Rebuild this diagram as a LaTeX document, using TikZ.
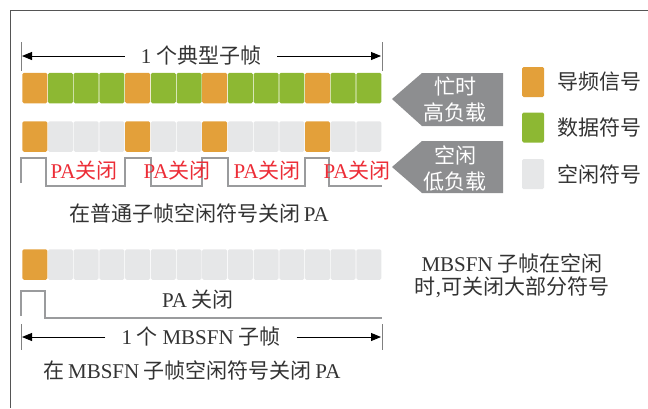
\documentclass[tikz,border=0pt]{standalone}
\usepackage{fontspec}
\setmainfont{Liberation Serif}
\newfontfamily\cjk{Noto Sans CJK SC}
\usetikzlibrary{arrows.meta}
\newcommand\latn[1]{{\rmfamily #1}}
\definecolor{pilot}{HTML}{E3A03A}
\definecolor{data}{HTML}{8DB833}
\definecolor{idle}{HTML}{E6E7E8}
\definecolor{arrgray}{HTML}{8D8E90}
\definecolor{wave}{HTML}{9A9B9D}
\definecolor{txt}{HTML}{333333}
\definecolor{redtxt}{HTML}{EC2D37}
\definecolor{frame}{HTML}{555555}
\tikzset{
  cell/.style={minimum width=25pt,minimum height=30.5pt,inner sep=0pt,rounded corners=1.5pt,draw=none},
  lbl/.style={font=\fontsize{21}{25}\selectfont\cjk,text=txt,inner sep=0pt},
  redlbl/.style={lbl,text=redtxt},
  wavel/.style={draw=wave,line width=1.6pt},
  tick/.style={draw=gray,line width=0.9pt},
  dimarrow/.style={draw=black,line width=0.9pt,-{Triangle[length=10pt,width=8pt]}},
  pent/.style={fill=arrgray},
  whitelbl/.style={lbl,text=white,align=center,font=\fontsize{21}{26}\selectfont\cjk},
  legbox/.style={minimum width=22pt,minimum height=30pt,inner sep=0pt,rounded corners=1.5pt}
}
\begin{document}
\begin{tikzpicture}[x=1pt,y=-1pt]
\useasboundingbox (0,0) rectangle (648,408);
% frame
\draw[frame,line width=1pt] (648,10) -- (10,10) -- (10,408);
% top dimension
\coordinate (t1a) at (21,42); \coordinate (t1b) at (21,71);
\coordinate (t2a) at (382,42); \coordinate (t2b) at (382,71);
\draw[tick] (t1a) -- (t1b); \draw[tick] (t2a) -- (t2b);
\coordinate (tl) at (22,56); \coordinate (tr) at (381,56);
\node[lbl,inner xsep=16pt] (toplbl) at (201,56) {\latn{1} 个典型子帧};
\draw[dimarrow] (toplbl.west) -- (tl);
\draw[dimarrow] (toplbl.east) -- (tr);
% row 1
\foreach \c [count=\i from 0] in {pilot,data,data,data,pilot,data,data,pilot,data,data,data,pilot,data,data}
  \node[cell,fill=\c] (a\i) at (34.8+25.7*\i,88) {};
% row 2
\foreach \c [count=\i from 0] in {pilot,idle,idle,idle,pilot,idle,idle,pilot,idle,idle,idle,pilot,idle,idle}
  \node[cell,fill=\c] (b\i) at (34.8+25.7*\i,136.5) {};
% waveform 2
\draw[wavel] (21,183) -- (21,158) -- (46,158) -- (46,186) -- (125,186) -- (125,158) -- (151,158) -- (151,186) -- (202,186) -- (202,158) -- (228,158) -- (228,186) -- (305,186) -- (305,158) -- (329,158) -- (329,186) -- (382,186);
\node[redlbl] (p1) at (84,171) {\latn{PA}关闭};
\node[redlbl] (p2) at (177,171) {\latn{PA}关闭};
\node[redlbl] (p3) at (267,171) {\latn{PA}关闭};
\node[redlbl] (p4) at (357,171) {\latn{PA}关闭};
\node[lbl] (cap1) at (199,213) {在普通子帧空闲符号关闭\,\latn{PA}};
% row 3
\foreach \c [count=\i from 0] in {pilot,idle,idle,idle,idle,idle,idle,idle,idle,idle,idle,idle,idle,idle}
  \node[cell,fill=\c] (c\i) at (34.8+25.7*\i,264.5) {};
\draw[wavel] (21,316) -- (21,291) -- (45,291) -- (45,318) -- (382,318);
\node[lbl] (p5) at (198,300) {\latn{PA} 关闭};
% bottom dimension
\coordinate (b1a) at (21,324); \coordinate (b1b) at (21,350);
\coordinate (b2a) at (382,324); \coordinate (b2b) at (382,350);
\draw[tick] (b1a) -- (b1b); \draw[tick] (b2a) -- (b2b);
\coordinate (bl) at (22,337); \coordinate (br) at (381,337);
\node[lbl,inner xsep=16pt] (botlbl) at (201,337) {\latn{1} 个 \latn{MBSFN} 子帧};
\draw[dimarrow] (botlbl.west) -- (bl);
\draw[dimarrow] (botlbl.east) -- (br);
\node[lbl] (cap2) at (192,370) {在\,\latn{MBSFN} 子帧空闲符号关闭\,\latn{PA}};
% gray arrows
\fill[pent] (392,99) -- (422,73) -- (503,73) -- (503,126) -- (422,126) -- cycle;
\node[whitelbl] (busy) at (455,100) {忙时\\高负载};
\fill[pent] (392,167) -- (422,141) -- (503,141) -- (503,193) -- (422,193) -- cycle;
\node[whitelbl] (idlelbl) at (455,168.5) {空闲\\低负载};
% legend
\node[legbox,fill=pilot] (l1) at (533,82) {};
\node[legbox,fill=data] (l2) at (533,127.5) {};
\node[legbox,fill=idle] (l3) at (533,174) {};
\node[lbl,anchor=west] (lt1) at (557,82) {导频信号};
\node[lbl,anchor=west] (lt2) at (557,127.5) {数据符号};
\node[lbl,anchor=west] (lt3) at (557,174) {空闲符号};
% right note
\node[lbl,align=center,font=\fontsize{21}{23}\selectfont\cjk] (note) at (512,276) {\latn{MBSFN} 子帧在空闲\\时\latn{,}可关闭大部分符号};
\end{tikzpicture}
\end{document}
